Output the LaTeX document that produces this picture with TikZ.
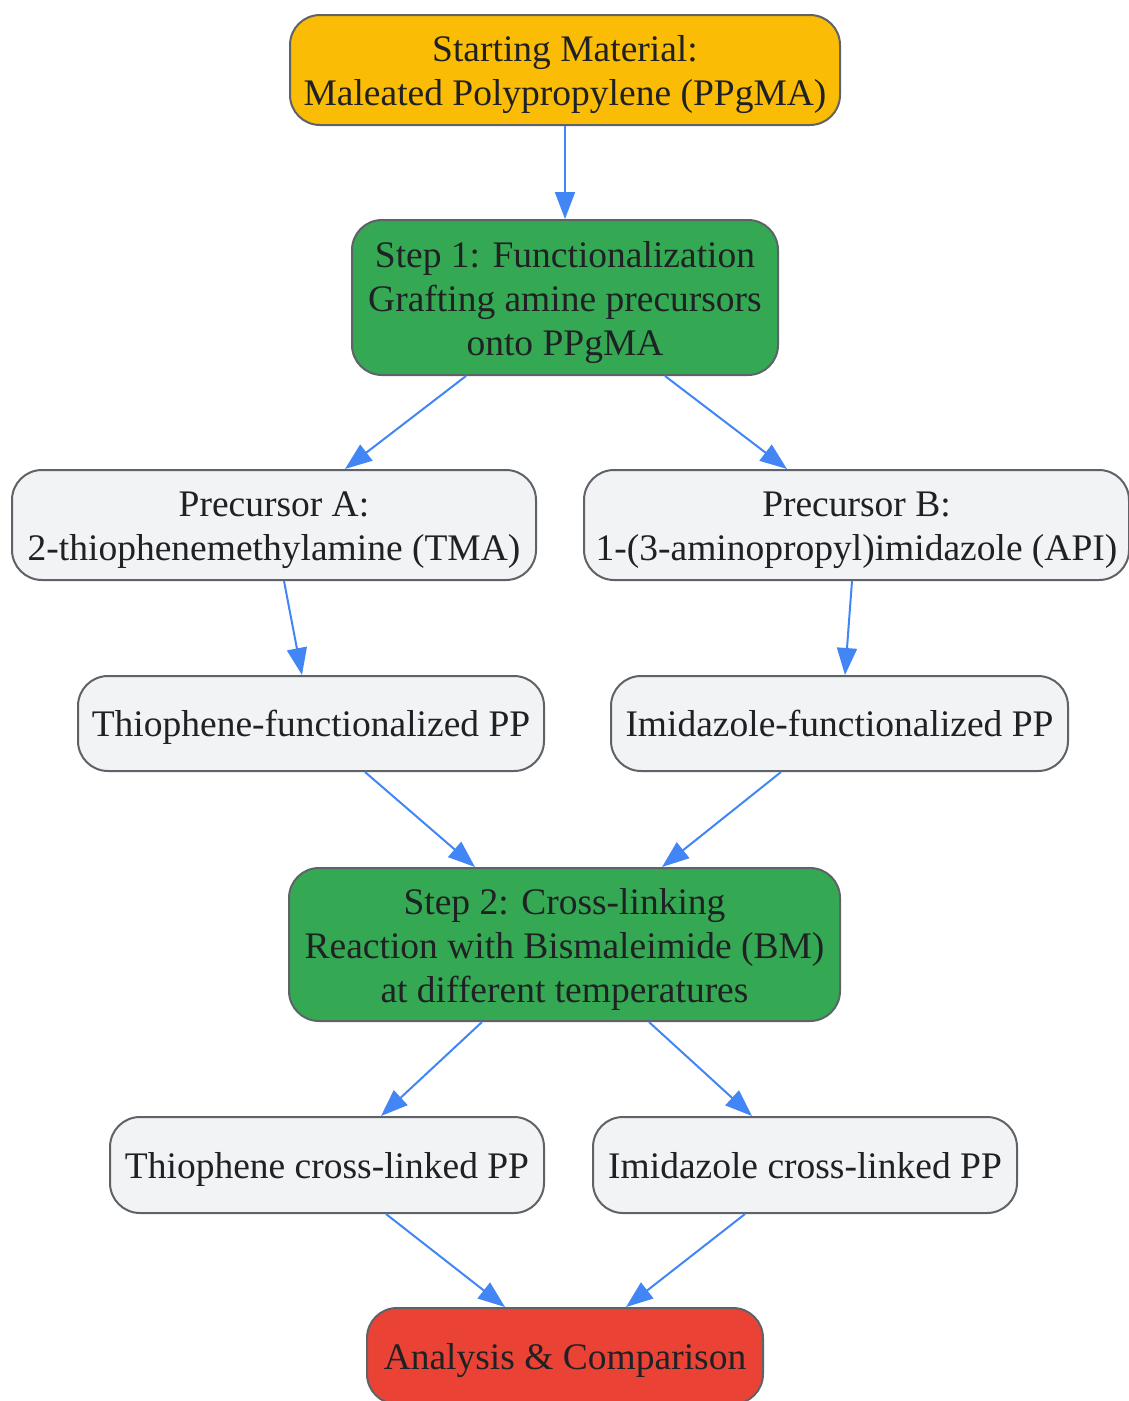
\documentclass[tikz,border=0pt]{standalone}
\usepackage{fontspec}
\setmainfont{Liberation Serif}
\usetikzlibrary{calc, arrows.meta}
\definecolor{startYellow}{HTML}{FBBC05}
\definecolor{stepGreen}{HTML}{34A853}
\definecolor{endRed}{HTML}{EA4335}
\definecolor{boxGrey}{HTML}{F1F3F4}
\definecolor{edgeGrey}{HTML}{5F6368}
\definecolor{arrowBlue}{HTML}{4285F4}
\definecolor{inkDark}{HTML}{202124}
\newcommand{\topstrut}{\rule{0pt}{36pt}}

\begin{document}
\begin{tikzpicture}[
			x = 1pt, y = -1pt, line width = 2pt,
			every node/.style = {draw = edgeGrey, rounded corners = 30pt, align = center,
				text = inkDark, inner sep = 0pt, font = \fontsize{37.5}{44}\selectfont},
			oneline/.style = {text height = 36pt, text depth = 10pt},
			startbox/.style = {fill = startYellow},
			stepbox/.style = {fill = stepGreen},
			plainbox/.style = {fill = boxGrey},
			endbox/.style = {fill = endRed},
			flow/.style = {draw = arrowBlue, -{Triangle[length = 27pt, width = 20pt]}}]
			\useasboundingbox (0,0) rectangle (1129,1401);

			% Nodes
			\node[startbox, minimum width = 550pt, minimum height = 110pt] (start) at (565,70)
				{\topstrut Starting Material:\\Maleated Polypropylene (PPgMA)};
			\node[stepbox, minimum width = 426pt, minimum height = 155pt] (step1) at (565,297.5)
				{\topstrut Step 1: Functionalization\\Grafting amine precursors\\onto PPgMA};
			\node[plainbox, minimum width = 524pt, minimum height = 110pt] (precA) at (274,525)
				{\topstrut Precursor A:\\2-thiophenemethylamine (TMA)};
			\node[plainbox, minimum width = 545pt, minimum height = 110pt] (precB) at (856.5,525)
				{\topstrut Precursor B:\\1-(3-aminopropyl)imidazole (API)};
			\node[plainbox, oneline, minimum width = 466pt, minimum height = 95pt] (thioF) at (311,723.5)
				{Thiophene-functionalized PP};
			\node[plainbox, oneline, minimum width = 457pt, minimum height = 95pt] (imidF) at (839.5,723.5)
				{Imidazole-functionalized PP};
			\node[stepbox, minimum width = 551pt, minimum height = 153pt] (step2) at (564.5,944.5)
				{\topstrut Step 2: Cross-linking\\Reaction with Bismaleimide (BM)\\at different temperatures};
			\node[plainbox, oneline, minimum width = 434pt, minimum height = 96pt] (thioX) at (327,1165)
				{Thiophene cross-linked PP};
			\node[plainbox, oneline, minimum width = 424pt, minimum height = 96pt] (imidX) at (805,1165)
				{Imidazole cross-linked PP};
			\node[endbox, oneline, minimum width = 396pt, minimum height = 96pt] (analysis) at (565,1356)
				{Analysis \& Comparison};

			% Arrows
			\draw[flow] (start.south) -- (step1.north);
			\draw[flow] ($(step1.south)+(-99,0)$) -- ($(precA.north)+(71,0)$);
			\draw[flow] ($(step1.south)+(100,0)$) -- ($(precB.north)+(-69.5,0)$);
			\draw[flow] ($(precA.south)+(10,0)$) -- ($(thioF.north)+(-9,0)$);
			\draw[flow] ($(precB.south)+(-4.5,0)$) -- ($(imidF.north)+(5.5,0)$);
			\draw[flow] ($(thioF.south)+(54,0)$) -- ($(step2.north)+(-89.5,0)$);
			\draw[flow] ($(imidF.south)+(-58.5,0)$) -- ($(step2.north)+(97.5,0)$);
			\draw[flow] ($(step2.south)+(-82.5,0)$) -- ($(thioX.north)+(54,0)$);
			\draw[flow] ($(step2.south)+(84.5,0)$) -- ($(imidX.north)+(-53,0)$);
			\draw[flow] ($(thioX.south)+(59,0)$) -- ($(analysis.north)+(-60,0)$);
			\draw[flow] ($(imidX.south)+(-60,0)$) -- ($(analysis.north)+(61,0)$);
		\end{tikzpicture}
\end{document}
